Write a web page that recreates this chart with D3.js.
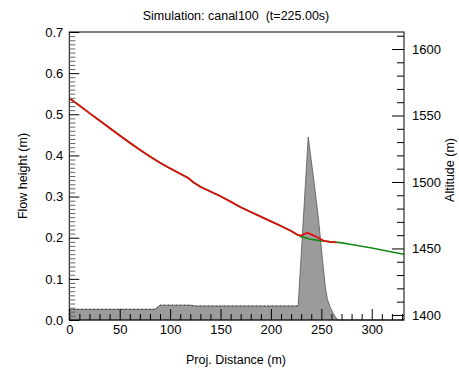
<!DOCTYPE html>
<html><head><meta charset="utf-8">
<script src="https://cdn.jsdelivr.net/npm/d3@7"></script>
<style>
html,body{margin:0;padding:0;background:#fff;}
svg text{font-family:"Liberation Sans",Arial,Helvetica,sans-serif;fill:#000;}
</style></head>
<body><svg id="c" width="459" height="372"></svg>
<script>
// ---- data ----
const title = "Simulation: canal100  (t=225.00s)";
const xLabel = "Proj. Distance (m)";
const yLeftLabel = "Flow height (m)";
const yRightLabel = "Altitude (m)";
const xTicks = [0, 50, 100, 150, 200, 250, 300];
const yLeftTicks = [0.0, 0.1, 0.2, 0.3, 0.4, 0.5, 0.6, 0.7];
const yRightTicks = [1400, 1450, 1500, 1550, 1600];

// flow height profile (left axis, gray area)
const flowDist   = [0, 85, 90, 120, 125, 227, 237, 242, 247, 251, 254, 256, 259, 262, 265, 267, 332];
const flowHeight = [0.026, 0.026, 0.036, 0.036, 0.034, 0.034, 0.445, 0.35, 0.25, 0.15, 0.08, 0.05, 0.03, 0.015, 0.004, 0, 0];

// terrain altitude (green) and flow surface (red), right axis
const terrDist = [0, 10, 20, 30, 40, 50, 60, 70, 80, 90, 100, 110, 118, 123, 130, 140, 150, 160, 170, 180, 190, 200, 210, 220, 226, 230, 239, 249, 259, 269, 280, 290, 300, 310, 320, 332];
const terrAlt  = [1563, 1557.5, 1551.8, 1546.2, 1540.6, 1535, 1529.5, 1524.2, 1519.2, 1514.5, 1510.2, 1506.2, 1503, 1499.8, 1496.4, 1492.8, 1489.3, 1485.2, 1481, 1477.4, 1473.9, 1470.4, 1466.9, 1463.1, 1460.4, 1458.9, 1456.9, 1455.9, 1455.1, 1454.4, 1453, 1451.7, 1450.4, 1448.8, 1447.4, 1445.6];
const surfDist = [0, 10, 20, 30, 40, 50, 60, 70, 80, 90, 100, 110, 118, 123, 130, 140, 150, 160, 170, 180, 190, 200, 210, 220, 226, 230, 236, 241, 246, 252, 258, 265];
const surfAlt  = [1563, 1557.5, 1551.8, 1546.2, 1540.6, 1535, 1529.5, 1524.2, 1519.2, 1514.5, 1510.2, 1506.2, 1503, 1499.8, 1496.4, 1492.8, 1489.3, 1485.2, 1481, 1477.4, 1473.9, 1470.4, 1466.9, 1463.1, 1460.4, 1459.7, 1461.9, 1460.2, 1458.4, 1455.9, 1455, 1454.6];

// ---- layout ----
const L = 69.3, R = 404, T = 32, B = 320;
const svg = d3.select("#c");
const x = d3.scaleLinear().domain([0, 332]).range([L, R]);
const yF = d3.scaleLinear().domain([0, 0.7]).range([B, T]);
const yA = d3.scaleLinear().domain([1396.2, 1612.8]).range([B, T]);

// gray flow area
const flowPts = flowDist.map((d, i) => [d, flowHeight[i]]);
svg.append("path").datum(flowPts)
  .attr("d", d3.area().x(d => x(d[0])).y0(yF(0)).y1(d => yF(d[1])))
  .attr("fill", "#9b9b9b").attr("stroke", "#555").attr("stroke-width", 0.8);
svg.append("path").datum(flowPts.filter(d => d[0] <= 227))
  .attr("d", d3.line().x(d => x(d[0])).y(d => yF(d[1])))
  .attr("fill", "none").attr("stroke", "#222").attr("stroke-width", 1).attr("stroke-dasharray", "1,3");

// lines
svg.append("path").datum(terrDist.map((d, i) => [d, terrAlt[i]]))
  .attr("d", d3.line().x(d => x(d[0])).y(d => yA(d[1])))
  .attr("fill", "none").attr("stroke", "#138a13").attr("stroke-width", 1.6);
svg.append("path").datum(surfDist.map((d, i) => [d, surfAlt[i]]))
  .attr("d", d3.line().x(d => x(d[0])).y(d => yA(d[1])))
  .attr("fill", "none").attr("stroke", "#e01010").attr("stroke-width", 1.8);

// frame
svg.append("rect").attr("x", L).attr("y", T).attr("width", R - L).attr("height", B - T)
  .attr("fill", "none").attr("stroke", "#000").attr("stroke-width", 1);

function styleAxis(g) {
  g.select(".domain").remove();
  g.selectAll("line").attr("stroke", "#000");
  g.selectAll("text").attr("font-size", 13).attr("font-family", "Liberation Sans, Arial, sans-serif");
}
// bottom axis (ticks inward)
const xMinor = d3.range(0, 333, 10).filter(v => v % 50 !== 0);
svg.append("g").attr("transform", `translate(0,${B})`)
  .call(d3.axisBottom(x).tickValues(xMinor).tickSize(-6).tickFormat(""))
  .call(styleAxis);
svg.append("g").attr("transform", `translate(0,${B})`)
  .call(d3.axisBottom(x).tickValues(xTicks).tickSize(-11).tickPadding(5).tickFormat(d3.format("d")))
  .call(styleAxis);

// left axis
const yMinor = d3.range(1, 70).map(v => v / 100).filter(v => Math.round(v * 100) % 10 !== 0);
svg.append("g").attr("transform", `translate(${L},0)`)
  .call(d3.axisLeft(yF).tickValues(yMinor).tickSize(-6).tickFormat(""))
  .call(styleAxis).selectAll("line").attr("stroke", "#666");
svg.append("g").attr("transform", `translate(${L},0)`)
  .call(d3.axisLeft(yF).tickValues(yLeftTicks).tickSize(-10).tickPadding(6).tickFormat(d3.format(".1f")))
  .call(styleAxis);

// right axis
const aMinor = d3.range(1400, 1611, 10).filter(v => v % 50 !== 0);
svg.append("g").attr("transform", `translate(${R},0)`)
  .call(d3.axisRight(yA).tickValues(aMinor).tickSize(-7).tickFormat(""))
  .call(styleAxis);
svg.append("g").attr("transform", `translate(${R},0)`)
  .call(d3.axisRight(yA).tickValues(yRightTicks).tickSize(-12).tickPadding(8).tickFormat(d3.format("d")))
  .call(styleAxis);

// texts
svg.append("text").attr("x", 236).attr("y", 20).attr("text-anchor", "middle")
  .attr("font-size", 12.5).style("white-space", "pre").text(title);
svg.append("text").attr("x", 236).attr("y", 364).attr("text-anchor", "middle")
  .attr("font-size", 12.5).text(xLabel);
svg.append("text").attr("transform", "translate(27,176) rotate(-90)").attr("text-anchor", "middle")
  .attr("font-size", 12.5).text(yLeftLabel);
svg.append("text").attr("transform", "translate(454,170) rotate(-90)").attr("text-anchor", "middle")
  .attr("font-size", 12.5).text(yRightLabel);
</script></body></html>
